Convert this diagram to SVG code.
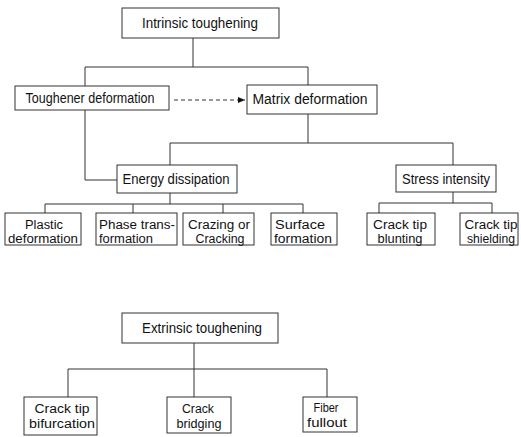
<svg xmlns="http://www.w3.org/2000/svg" width="521" height="437" viewBox="0 0 521 437">
<style>
.box{fill:#fff;stroke:#333;stroke-width:1}
.ln{fill:none;stroke:#333;stroke-width:1}
.dash{stroke-dasharray:4 3}
text{font-family:"Liberation Sans",Arial,sans-serif;font-size:14px;fill:#111;text-anchor:middle}
.s{font-size:12.5px}
</style>
<defs>
<marker id="ah" markerWidth="8" markerHeight="8" refX="7" refY="4" orient="auto" markerUnits="userSpaceOnUse">
<path d="M0,1 L7,4 L0,7 Z" fill="#111"/>
</marker>
</defs>
<g id="connectors">
<path class="ln" d="M193,38 V67 M85,67 H308 M85,67 V86 M308,67 V85"/>
<path class="ln dash" d="M174,100 H245" marker-end="url(#ah)"/>
<path class="ln" d="M85,110 V180 H117"/>
<path class="ln" d="M308,114 V143 M170,143 H453 M170,143 V165 M453,143 V165"/>
<path class="ln" d="M170,193 V204 M45,204 H303 M45,204 V213 M133,204 V213 M223,204 V213 M303,204 V213"/>
<path class="ln" d="M453,192 V203 M379,203 H492 M379,203 V213 M492,203 V213"/>
<path class="ln" d="M194,343 V369 M68,369 H327 M68,369 V397 M194,369 V397 M327,369 V397"/>
</g>
<g id="intrinsic"><rect class="box" x="122" y="8" width="157" height="30"/><text x="200" y="28" textLength="116" lengthAdjust="spacingAndGlyphs">Intrinsic toughening</text></g>
<g id="toughener"><rect class="box" x="15" y="86" width="154" height="24"/><text x="90" y="103" textLength="129" lengthAdjust="spacingAndGlyphs">Toughener deformation</text></g>
<g id="matrix"><rect class="box" x="247" y="85" width="130" height="29"/><text x="310" y="104" textLength="115" lengthAdjust="spacingAndGlyphs">Matrix deformation</text></g>
<g id="energy"><rect class="box" x="117" y="165" width="120" height="28"/><text x="176" y="184" textLength="107" lengthAdjust="spacingAndGlyphs">Energy dissipation</text></g>
<g id="stress"><rect class="box" x="396" y="165" width="100" height="27"/><text x="446" y="184" textLength="88" lengthAdjust="spacingAndGlyphs">Stress intensity</text></g>
<g id="plastic"><rect class="box" x="5" y="213" width="76" height="32"/><text class="s" x="44" y="228.5" textLength="38" lengthAdjust="spacingAndGlyphs">Plastic</text><text class="s" x="43" y="242.5" textLength="70" lengthAdjust="spacingAndGlyphs">deformation</text></g>
<g id="phase"><rect class="box" x="96" y="213" width="81" height="32"/><text class="s" x="137" y="228.5" textLength="76" lengthAdjust="spacingAndGlyphs">Phase trans-</text><text class="s" x="126" y="242.5" textLength="54" lengthAdjust="spacingAndGlyphs">formation</text></g>
<g id="crazing"><rect class="box" x="183" y="213" width="71" height="32"/><text class="s" x="219" y="228.5" textLength="62" lengthAdjust="spacingAndGlyphs">Crazing or</text><text class="s" x="220" y="242.5" textLength="49" lengthAdjust="spacingAndGlyphs">Cracking</text></g>
<g id="surface"><rect class="box" x="271" y="213" width="66" height="32"/><text class="s" x="300" y="228.5" textLength="50" lengthAdjust="spacingAndGlyphs">Surface</text><text class="s" x="303" y="242.5" textLength="58" lengthAdjust="spacingAndGlyphs">formation</text></g>
<g id="blunting"><rect class="box" x="367" y="213" width="68" height="32"/><text class="s" x="400" y="228.5" textLength="54" lengthAdjust="spacingAndGlyphs">Crack tip</text><text class="s" x="400" y="242.5" textLength="45" lengthAdjust="spacingAndGlyphs">blunting</text></g>
<g id="shielding"><rect class="box" x="460" y="213" width="58" height="32"/><text class="s" x="491" y="228.5" textLength="53" lengthAdjust="spacingAndGlyphs">Crack tip</text><text class="s" x="491" y="242.5" textLength="48" lengthAdjust="spacingAndGlyphs">shielding</text></g>
<g id="extrinsic"><rect class="box" x="122" y="313" width="156" height="30"/><text x="202" y="333" textLength="120" lengthAdjust="spacingAndGlyphs">Extrinsic toughening</text></g>
<g id="bifurcation"><rect class="box" x="24" y="397" width="73" height="38"/><text class="s" x="62" y="413" textLength="55" lengthAdjust="spacingAndGlyphs">Crack tip</text><text class="s" x="62" y="428" textLength="66" lengthAdjust="spacingAndGlyphs">bifurcation</text></g>
<g id="bridging"><rect class="box" x="167" y="397" width="64" height="36"/><text class="s" x="198" y="413" textLength="32" lengthAdjust="spacingAndGlyphs">Crack</text><text class="s" x="199" y="428" textLength="45" lengthAdjust="spacingAndGlyphs">bridging</text></g>
<g id="fullout"><rect class="box" x="303" y="397" width="54" height="35"/><text class="s" x="326" y="412" textLength="25" lengthAdjust="spacingAndGlyphs">Fiber</text><text class="s" x="327" y="427" textLength="40" lengthAdjust="spacingAndGlyphs">fullout</text></g>
</svg>
